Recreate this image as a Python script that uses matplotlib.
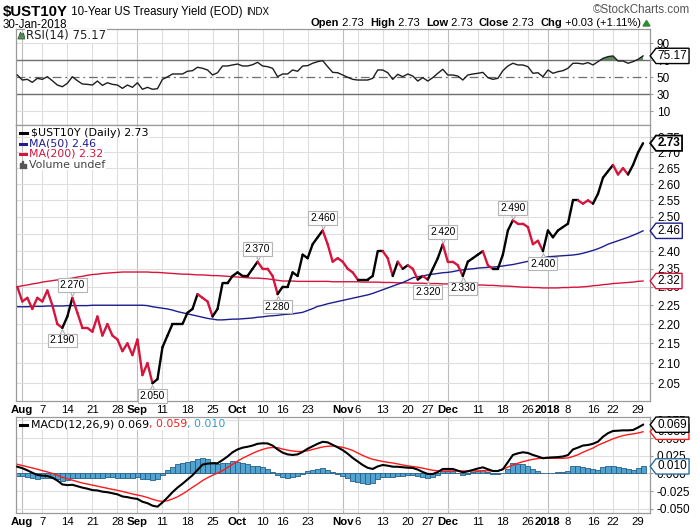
import numpy as np
import matplotlib
matplotlib.use("Agg")
import matplotlib.pyplot as plt
from matplotlib import font_manager
from matplotlib.collections import LineCollection
from matplotlib.lines import Line2D
from matplotlib.patches import Rectangle, Polygon
from matplotlib.path import Path
import matplotlib.transforms as mtransforms
from matplotlib.ticker import FixedLocator, FuncFormatter, NullLocator

# ---------------- data ----------------
days_jul = [31]
days_aug = [1, 2, 3, 4, 7, 8, 9, 10, 11, 14, 15, 16, 17, 18, 21, 22, 23, 24, 25, 28, 29, 30, 31]
days_sep = [1, 5, 6, 7, 8, 11, 12, 13, 14, 15, 18, 19, 20, 21, 22, 25, 26, 27, 28, 29]
days_oct = [2, 3, 4, 5, 6, 10, 11, 12, 13, 16, 17, 18, 19, 20, 23, 24, 25, 26, 27, 30, 31]
days_nov = [1, 2, 3, 6, 7, 8, 9, 10, 13, 14, 15, 16, 17, 20, 21, 22, 24, 27, 28, 29, 30]
days_dec = [1, 4, 5, 6, 7, 8, 11, 12, 13, 14, 15, 18, 19, 20, 21, 22, 26, 27, 28, 29]
days_jan = [2, 3, 4, 5, 8, 9, 10, 11, 12, 16, 17, 18, 19, 22, 23, 24, 25, 26, 29, 30]
dates = ([f"2017-07-{d:02d}" for d in days_jul] + [f"2017-08-{d:02d}" for d in days_aug]
         + [f"2017-09-{d:02d}" for d in days_sep] + [f"2017-10-{d:02d}" for d in days_oct]
         + [f"2017-11-{d:02d}" for d in days_nov] + [f"2017-12-{d:02d}" for d in days_dec]
         + [f"2018-01-{d:02d}" for d in days_jan])

close = [2.30,
         2.26, 2.27, 2.24, 2.27, 2.26, 2.29, 2.25, 2.20, 2.19, 2.22, 2.27, 2.23, 2.19, 2.19, 2.18, 2.22,
         2.17, 2.20, 2.17, 2.16, 2.13, 2.15, 2.12,
         2.16, 2.07, 2.10, 2.05, 2.06, 2.14, 2.17, 2.20, 2.20, 2.20, 2.23, 2.24, 2.28, 2.27, 2.26, 2.22,
         2.24, 2.31, 2.31, 2.33,
         2.34, 2.33, 2.33, 2.35, 2.37, 2.35, 2.35, 2.33, 2.28, 2.30, 2.30, 2.34, 2.33, 2.39, 2.38, 2.42,
         2.44, 2.46, 2.42, 2.37, 2.38,
         2.37, 2.35, 2.34, 2.32, 2.32, 2.32, 2.33, 2.40, 2.40, 2.38, 2.33, 2.37, 2.35, 2.36, 2.35, 2.32,
         2.33, 2.32, 2.35, 2.38, 2.42,
         2.37, 2.37, 2.36, 2.33, 2.37, 2.38, 2.39, 2.40, 2.36, 2.35, 2.35, 2.39, 2.46, 2.49, 2.48, 2.48,
         2.47, 2.42, 2.43, 2.40,
         2.46, 2.44, 2.46, 2.47, 2.48, 2.55, 2.55, 2.54, 2.55, 2.54, 2.57, 2.62, 2.64, 2.66, 2.63, 2.65,
         2.63, 2.66, 2.70, 2.73]

ma50 = [2.246, 2.246, 2.246, 2.247, 2.247, 2.247, 2.248, 2.248, 2.248, 2.248, 2.249, 2.249, 2.249,
        2.249, 2.249, 2.250, 2.250, 2.250, 2.250, 2.250, 2.250, 2.250, 2.250, 2.250, 2.250,
        2.250, 2.249, 2.246, 2.244, 2.242, 2.240, 2.237, 2.233, 2.230, 2.227, 2.224, 2.221, 2.218,
        2.215, 2.213, 2.211, 2.211, 2.212, 2.213, 2.213, 2.214, 2.215, 2.216, 2.218, 2.219,
        2.221, 2.222, 2.223, 2.225, 2.226, 2.227, 2.229, 2.231, 2.236, 2.241, 2.247, 2.250, 2.254,
        2.257, 2.260, 2.263, 2.266, 2.269, 2.272, 2.275, 2.278, 2.282, 2.287, 2.292, 2.297,
        2.302, 2.307, 2.312, 2.318, 2.325, 2.328, 2.330, 2.333, 2.335, 2.337, 2.339, 2.340, 2.342,
        2.345, 2.347, 2.349, 2.350, 2.352, 2.353, 2.354, 2.355, 2.356, 2.358, 2.360, 2.362,
        2.365, 2.368, 2.371, 2.374, 2.377, 2.380, 2.384, 2.385, 2.386, 2.387, 2.388, 2.389, 2.391,
        2.394, 2.398, 2.402, 2.407, 2.413, 2.420, 2.425, 2.430, 2.435, 2.440, 2.446, 2.452, 2.459]

ma200 = [2.300, 2.303, 2.305, 2.308, 2.310, 2.313, 2.315, 2.317, 2.319, 2.320, 2.322, 2.324, 2.327,
         2.329, 2.332, 2.334, 2.335, 2.337, 2.338, 2.339, 2.340, 2.341, 2.341, 2.341, 2.341,
         2.341, 2.341, 2.340, 2.340, 2.339, 2.338, 2.337, 2.336, 2.335, 2.335, 2.334, 2.333, 2.333,
         2.332, 2.331, 2.331, 2.330, 2.329, 2.328, 2.327, 2.326, 2.325, 2.324, 2.324, 2.323,
         2.322, 2.320, 2.318, 2.316, 2.316, 2.316, 2.315, 2.315, 2.315, 2.315, 2.315, 2.315, 2.315,
         2.314, 2.314, 2.314, 2.314, 2.314, 2.314, 2.313, 2.313, 2.313, 2.313, 2.312, 2.312,
         2.312, 2.311, 2.311, 2.311, 2.310, 2.310, 2.310, 2.309, 2.309, 2.309, 2.308, 2.308, 2.307,
         2.307, 2.307, 2.306, 2.306, 2.305, 2.305, 2.304, 2.304, 2.303, 2.302, 2.302, 2.301,
         2.300, 2.299, 2.299, 2.298, 2.298, 2.297, 2.297, 2.297, 2.297, 2.298, 2.298, 2.299, 2.299,
         2.300, 2.301, 2.303, 2.304, 2.306, 2.307, 2.309, 2.310, 2.311, 2.312, 2.313, 2.315, 2.316]

rsi = [52.7, 46.8, 47.6, 44.1, 48.8, 47.6, 50.7, 46.0, 40.9, 38.9, 42.9, 50.7, 46.0, 42.1, 41.7,
       40.9, 45.6, 40.5, 43.6, 41.7, 40.9, 37.0, 40.9, 38.2, 43.6, 35.9, 38.2, 35.9, 36.6, 47.6,
       50.5, 53.9, 53.9, 53.9, 57.1, 57.8, 61.8, 60.6, 58.6, 52.7, 55.4, 63.3, 63.3, 64.5, 65.6,
       63.3, 63.3, 64.8, 67.6, 63.3, 62.5, 60.6, 50.7, 53.9, 53.9, 58.6, 57.1, 63.3, 63.7, 66.5,
       68.4, 69.6, 62.5, 55.8, 55.4, 52.7, 50.0, 47.6, 46.8, 46.8, 46.8, 48.8, 58.6, 58.6, 55.4,
       47.6, 53.5, 50.7, 53.9, 51.5, 45.6, 49.6, 45.6, 49.6, 54.7, 59.4, 52.7, 52.7, 51.5, 46.8,
       52.7, 53.9, 54.7, 55.8, 49.6, 47.6, 48.8, 57.8, 63.3, 66.5, 64.5, 64.5, 62.5, 54.7, 55.4,
       50.7, 58.6, 54.7, 56.6, 57.8, 60.6, 66.5, 66.5, 65.6, 67.3, 64.5, 68.4, 72.3, 74.3, 75.1,
       69.2, 69.2, 66.5, 68.4, 71.1, 75.17]

macd = [0.0096, 0.0075, 0.0045, 0.0010, -0.0020, -0.0030, -0.0035, -0.0060, -0.0100, -0.0155,
        -0.0165, -0.0160, -0.0180, -0.0200, -0.0215, -0.0235, -0.0240, -0.0257, -0.0265, -0.0280,
        -0.0295, -0.0325, -0.0335, -0.0350, -0.0360, -0.0400,
        -0.0420, -0.0455, -0.0470, -0.0410, -0.0340, -0.0265, -0.0200, -0.0145, -0.0085, -0.0025,
        0.0050, 0.0125, 0.0140, 0.0144, 0.0144, 0.0190, 0.0240, 0.0300, 0.0340, 0.0365, 0.0378,
        0.0395, 0.0420, 0.0427, 0.0425,
        0.0395, 0.0340, 0.0295, 0.0270, 0.0262, 0.0270, 0.0305, 0.0350, 0.0385, 0.0420, 0.0448,
        0.0440, 0.0405, 0.0370, 0.0330, 0.0280, 0.0220, 0.0170, 0.0120, 0.0080, 0.0064, 0.0100,
        0.0120, 0.0110, 0.0096,
        0.0095, 0.0088, 0.0082, 0.0078, 0.0055, 0.0020, -0.0007, -0.0007, 0.0020, 0.0064, 0.0064,
        0.0064, 0.0040, 0.0016, 0.0030, 0.0050, 0.0070, 0.0087, 0.0060, 0.0035, 0.0035, 0.0060,
        0.0160, 0.0262, 0.0285,
        0.0300, 0.0290, 0.0262, 0.0240, 0.0215, 0.0224, 0.0228, 0.0232, 0.0240, 0.0260, 0.0340,
        0.0366, 0.0395, 0.0403, 0.0420, 0.0450, 0.0520, 0.0570, 0.0601, 0.0605, 0.0610, 0.0610,
        0.0615, 0.0650, 0.0690]

signal = [0.0130, 0.0112, 0.0095, 0.0078, 0.0060, 0.0040, 0.0022, 0.0000, -0.0025, -0.0055,
          -0.0075, -0.0095, -0.0115, -0.0135, -0.0150, -0.0165, -0.0180, -0.0195, -0.0210, -0.0225,
          -0.0238, -0.0255, -0.0272, -0.0290, -0.0305, -0.0320,
          -0.0340, -0.0365, -0.0385, -0.0395, -0.0385, -0.0360, -0.0330, -0.0290, -0.0245, -0.0195,
          -0.0150, -0.0100, -0.0060, -0.0025, 0.0005, 0.0040, 0.0085, 0.0130, 0.0175, 0.0215,
          0.0250, 0.0285, 0.0315, 0.0340, 0.0360,
          0.0368, 0.0365, 0.0345, 0.0330, 0.0318, 0.0310, 0.0312, 0.0322, 0.0340, 0.0358, 0.0375,
          0.0385, 0.0388, 0.0380, 0.0370, 0.0350, 0.0325, 0.0290, 0.0255, 0.0225, 0.0200, 0.0185,
          0.0170, 0.0158, 0.0148,
          0.0135, 0.0120, 0.0108, 0.0098, 0.0088, 0.0075, 0.0060, 0.0045, 0.0038, 0.0036, 0.0036,
          0.0036, 0.0035, 0.0035, 0.0035, 0.0035, 0.0036, 0.0038, 0.0038, 0.0036, 0.0036, 0.0060,
          0.0090, 0.0120, 0.0145,
          0.0167, 0.0185, 0.0200, 0.0212, 0.0215, 0.0215, 0.0215, 0.0215, 0.0215, 0.0220, 0.0240,
          0.0265, 0.0300, 0.0330, 0.0360, 0.0400, 0.0430, 0.0460, 0.0490, 0.0515, 0.0535, 0.0550,
          0.0560, 0.0572, 0.0590]

# swing (zigzag) labels: index into the series and kind (H = peak, L = trough)
pivot_idx = [9, 11, 27, 48, 52, 61, 82, 85, 89, 99, 105]
pivot_kind = ["L", "H", "L", "H", "L", "H", "L", "H", "L", "H", "L"]
# stretches of the price line drawn in red (falling swings)
red_ranges = [(0, 9), (11, 27), (36, 39), (48, 52), (61, 68), (73, 75), (76, 77), (78, 80),
              (81, 82), (85, 89), (93, 95), (99, 105), (112, 115), (119, 122)]

tick_dates = ["2017-08-01", "2017-08-07", "2017-08-14", "2017-08-21", "2017-08-28", "2017-09-01",
              "2017-09-11", "2017-09-18", "2017-09-25", "2017-10-02", "2017-10-10", "2017-10-16",
              "2017-10-23", "2017-11-01", "2017-11-06", "2017-11-13", "2017-11-20", "2017-11-27",
              "2017-12-01", "2017-12-11", "2017-12-18", "2017-12-26", "2018-01-02", "2018-01-08",
              "2018-01-16", "2018-01-22", "2018-01-29"]
tick_labels = ["Aug", "7", "14", "21", "28", "Sep", "11", "18", "25", "Oct", "10", "16", "23",
               "Nov", "6", "13", "20", "27", "Dec", "11", "18", "26", "2018", "8", "16", "22", "29"]
month_labels = ["Aug", "Sep", "Oct", "Nov", "Dec", "2018"]

price_ticks = [2.05, 2.10, 2.15, 2.20, 2.25, 2.30, 2.35, 2.40, 2.45, 2.50, 2.55, 2.60, 2.65, 2.70, 2.75]
rsi_ticks = [10, 30, 50, 70, 90]
macd_ticks = [-0.050, -0.025, 0.000, 0.025, 0.050, 0.075]

for arr in (close, ma50, ma200, rsi, macd, signal):
    assert len(arr) == len(dates), len(arr)

# ---------------- fonts ----------------
avail = {f.name for f in font_manager.fontManager.ttflist}
NARROW = "Liberation Sans Narrow" if "Liberation Sans Narrow" in avail else "Liberation Sans"
plt.rcParams["font.family"] = [NARROW, "DejaVu Sans"]

# ---------------- layout ----------------
W, H = 700, 530
fig = plt.figure(figsize=(7, 5.3), dpi=100, facecolor="white")


def fx(x):
    return x / W


def fy(y):
    return 1 - y / H


L, R = 16, 650
ax_rsi = fig.add_axes([fx(L), fy(125), (R - L) / W, (125 - 29) / H])
ax_p = fig.add_axes([fx(L), fy(401), (R - L) / W, (401 - 125) / H])
ax_m = fig.add_axes([fx(L), fy(513), (R - L) / W, (513 - 416.7) / H])

x = np.arange(len(dates))
tick_pos = [dates.index(d) for d in tick_dates]
XLIM = (-0.26, 126.39)

GRID = "#dedede"
MGRID = "#bdbdbd"
SPINE = "#9a9a9a"
RED = "#d6143c"
NAVY = "#1d1d8f"

for ax in (ax_rsi, ax_p, ax_m):
    ax.set_xlim(*XLIM)
    ax.set_facecolor("white")
    for s in ax.spines.values():
        s.set_color(SPINE)
        s.set_linewidth(0.9)
    for p, lab in zip(tick_pos, tick_labels):
        ax.axvline(p, color=MGRID if lab in month_labels else GRID, lw=0.8, zorder=0)
    ax.yaxis.tick_right()
    ax.tick_params(axis="y", length=2, color=SPINE, pad=3, labelsize=8.5)
    ax.set_xticks(tick_pos)
    ax.tick_params(axis="x", length=0, pad=3, labelsize=8.2)

ax_rsi.set_xticklabels([])
for ax in (ax_p, ax_m):
    ax.set_xticklabels(tick_labels)
    for t in ax.get_xticklabels():
        if t.get_text() in month_labels:
            t.set_fontweight("bold")

# ---------------- RSI ----------------
ax_rsi.set_ylim(-6.1, 106.8)
ax_rsi.yaxis.set_major_locator(FixedLocator(rsi_ticks))
ax_rsi.yaxis.set_major_formatter(FuncFormatter(lambda v, p: f"{v:.0f}"))
for v in (10, 90):
    ax_rsi.axhline(v, color=GRID, lw=0.8, zorder=0)
ax_rsi.axhline(70, color="#6e6e6e", lw=1.0, zorder=1)
ax_rsi.axhline(30, color="#6e6e6e", lw=1.0, zorder=1)
ax_rsi.axhline(50, color="#6e6e6e", lw=0.9, zorder=1, dashes=(7, 3, 1.5, 3))
rsi_a = np.array(rsi)
ax_rsi.fill_between(x, rsi_a, 70, where=rsi_a > 70, interpolate=True, color="#5d8b5d",
                    lw=0, zorder=2)
ax_rsi.plot(x, rsi_a, color="#1e1e1e", lw=1.0, zorder=3)

# ---------------- price ----------------
ax_p.set_yscale("log")
ax_p.set_ylim(2.007, 2.79)
ax_p.yaxis.set_major_locator(FixedLocator(price_ticks))
ax_p.yaxis.set_minor_locator(NullLocator())
ax_p.yaxis.set_major_formatter(FuncFormatter(lambda v, p: f"{v:.2f}"))
ax_p.yaxis.set_minor_formatter(FuncFormatter(lambda v, p: ""))
for v in price_ticks:
    ax_p.axhline(v, color=GRID, lw=0.8, zorder=0)

ax_p.plot(x, ma200, color=RED, lw=1.0, zorder=2)
ax_p.plot(x, ma50, color=NAVY, lw=1.0, zorder=2)

segs = [[(x[i], close[i]), (x[i + 1], close[i + 1])] for i in range(len(close) - 1)]
seg_colors = []
for i in range(len(close) - 1):
    red = any(a <= i < b for a, b in red_ranges)
    seg_colors.append(RED if red else "black")
lc = LineCollection(segs, colors=seg_colors, linewidths=1.7, zorder=3, capstyle="round",
                    joinstyle="round")
ax_p.add_collection(lc)

for idx, kind in zip(pivot_idx, pivot_kind):
    v = close[idx]
    sgn = 1 if kind == "H" else -1
    tri = mtransforms.offset_copy(ax_p.transData, fig=fig, x=0, y=sgn * 5.5, units="dots")
    ax_p.plot([idx], [v], marker="v" if kind == "H" else "^", ms=5.5, mfc="white",
              mec="#b0b0b0", mew=0.8, transform=tri, zorder=4, clip_on=False)
    ax_p.annotate(f"{v:.3f}", xy=(idx, v), xytext=(0, sgn * 12.5 * 0.72),
                  textcoords="offset points", ha="center", va="center", fontsize=7.3,
                  family=[NARROW, "DejaVu Sans"], zorder=5, annotation_clip=False,
                  bbox=dict(boxstyle="square,pad=0.18", fc="white", ec="#b4b4b4", lw=0.8))

# ---------------- MACD ----------------
hist = [m - s for m, s in zip(macd, signal)]
ax_m.set_ylim(-0.0559, 0.0803)
ax_m.yaxis.set_major_locator(FixedLocator(macd_ticks))
ax_m.yaxis.set_major_formatter(FuncFormatter(lambda v, p: f"{v:.3f}"))
for v in macd_ticks:
    ax_m.axhline(v, color=GRID, lw=0.8, zorder=0)
ax_m.bar(x, hist, width=1.0, color="#52a3cf", edgecolor="#245f89", lw=0.6, zorder=2)
ax_m.plot(x, signal, color="#ff1a1a", lw=1.0, zorder=3)
ax_m.plot(x, macd, color="black", lw=1.5, zorder=4)


# ---------------- value tags on the right ----------------
def tag_box(x0, y0, width, height, mutation_size):
    pad = 0.14 * mutation_size
    x0, y0 = x0 - pad, y0 - pad
    x1, y1 = x0 + width + 2 * pad, y0 + height + 2 * pad
    tip = 0.38 * (y1 - y0)
    verts = [(x0, y0), (x1, y0), (x1, y1), (x0, y1), (x0 - tip, (y0 + y1) / 2), (x0, y0)]
    return Path(verts, closed=True)


def tag(ax, val, text, ec, bold=False, lw=1.0):
    tr = mtransforms.blended_transform_factory(ax.transAxes, ax.transData)
    ax.annotate(text, xy=(1.0, val), xycoords=tr, xytext=(5.5, 0), textcoords="offset points",
                ha="left", va="center", fontsize=8.5, fontweight="bold" if bold else "normal",
                color="black", zorder=10, annotation_clip=False,
                bbox=dict(boxstyle=tag_box, fc="white", ec=ec, lw=lw))


tag(ax_rsi, rsi[-1], f"{rsi[-1]:.2f}", "black")
tag(ax_p, ma200[-1], f"{ma200[-1]:.2f}", RED)
tag(ax_p, ma50[-1], f"{ma50[-1]:.2f}", NAVY)
tag(ax_p, close[-1], f"{close[-1]:.2f}", "black", bold=True, lw=1.3)
tag(ax_m, hist[-1], f"{hist[-1]:.3f}", "#2b6e9e")
tag(ax_m, signal[-1], f"{signal[-1]:.3f}", "#ff1a1a")
tag(ax_m, macd[-1], f"{macd[-1]:.3f}", "black")

# ---------------- text helpers ----------------
renderer = fig.canvas.get_renderer()


def runs(x0, y, parts, ha="left", bg=False, **kw):
    texts = []
    cur = x0
    for s, props in parts:
        p = dict(kw)
        p.update(props)
        t = fig.text(fx(cur), fy(y), s, ha="left", va="center", **p)
        if bg:
            t.set_bbox(dict(boxstyle="square,pad=0.05", fc="white", ec="none"))
        w = t.get_window_extent(renderer=renderer).width
        cur += w
        texts.append(t)
    if ha == "right":
        shift = x0 - cur
        for t in texts:
            px, py = t.get_position()
            t.set_position((px + shift / W, py))
    return texts


# header
runs(3, 12, [("$UST10Y", dict(fontweight="bold", fontsize=10.8)),
             (" 10-Year US Treasury Yield (EOD) ", dict(fontsize=8.3)),
             ("INDX", dict(fontsize=7.0))], color="black", family=[NARROW, "DejaVu Sans"])
fig.text(fx(3), fy(25), "30-Jan-2018", ha="left", va="center", fontsize=8.3,
         family=[NARROW, "DejaVu Sans"])
fig.text(fx(690), fy(10), "\u00a9StockCharts.com", ha="right", va="center", fontsize=8.4,
         color="#555555", family=["Liberation Sans", "DejaVu Sans"])
bold = dict(fontweight="bold")
norm = dict(fontweight="normal")
runs(641, 23, [("Open", bold), (" 2.73  ", norm), ("High", bold), (" 2.73  ", norm),
               ("Low", bold), (" 2.73  ", norm), ("Close", bold), (" 2.73  ", norm),
               ("Chg", bold), (" +0.03 (+1.11%)", norm)], ha="right", fontsize=8.0,
     color="black", family=[NARROW, "DejaVu Sans"])
fig.add_artist(Polygon([(fx(643), fy(26)), (fx(650), fy(26)), (fx(646.5), fy(20.5))],
                       closed=True, color="#2e8b2e", transform=fig.transFigure))

# RSI legend
fig.add_artist(Polygon([(fx(18), fy(39)), (fx(20.5), fy(32)), (fx(22), fy(35)), (fx(23.5), fy(33)),
                        (fx(25), fy(39))], closed=True, fc="#5d8b5d", ec="#2f5f2f", lw=0.6,
                       transform=fig.transFigure))
runs(26, 36, [("RSI(14) 75.17", {})], bg=True, fontsize=8.4, color="#222222",
     family=["DejaVu Sans"])

# price legend
LEG = 7.9
fig.add_artist(Line2D([fx(20), fx(27)], [fy(132.5)] * 2, color="black", lw=2.2,
                      transform=fig.transFigure))
runs(31, 132.5, [("$UST10Y (Daily) 2.73", {})], bg=True, fontsize=LEG, color="black",
     family=["DejaVu Sans"])
fig.add_artist(Line2D([fx(20), fx(27)], [fy(143.5)] * 2, color=NAVY, lw=2.2,
                      transform=fig.transFigure))
runs(29, 143.5, [("MA(50) 2.46", {})], bg=True, fontsize=LEG, color=NAVY,
     family=["DejaVu Sans"])
fig.add_artist(Line2D([fx(20), fx(27)], [fy(154)] * 2, color=RED, lw=2.2,
                      transform=fig.transFigure))
runs(29, 154, [("MA(200) 2.32", {})], bg=True, fontsize=LEG, color=RED,
     family=["DejaVu Sans"])
for bx, bh in ((19.5, 5), (21.8, 7), (24.1, 4)):
    fig.add_artist(Rectangle((fx(bx), fy(168)), 1.6 / W, bh / H, color="#555555",
                             transform=fig.transFigure))
runs(29, 164.5, [("Volume undef", {})], bg=True, fontsize=LEG, color="#444444",
     family=["DejaVu Sans"])

# MACD legend
fig.add_artist(Line2D([fx(20), fx(27)], [fy(424.5)] * 2, color="black", lw=2.2,
                      transform=fig.transFigure))
runs(31, 424.5, [("MACD(12,26,9) 0.069", dict(color="black")),
                 (", 0.059", dict(color="#ff1a1a")),
                 (", 0.010", dict(color="#3399cc"))], bg=True, fontsize=LEG,
     family=["DejaVu Sans"])

fig.savefig("out.png", dpi=100, facecolor="white")
